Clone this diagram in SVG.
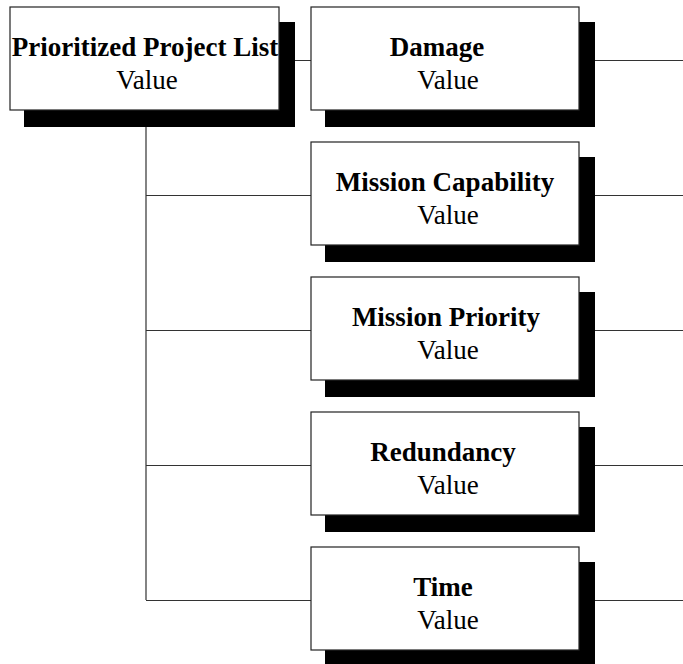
<svg xmlns="http://www.w3.org/2000/svg" width="683" height="664" viewBox="0 0 683 664">
<style>
.box{fill:#fff;stroke:#222;stroke-width:1.2}
.sh{fill:#000}
.t{font-family:"Liberation Serif","Times New Roman",serif;font-size:27px;fill:#000;text-anchor:middle}
.b{font-weight:bold}
.c{fill:none;stroke:#333;stroke-width:1.2}
</style>
<rect width="683" height="664" fill="#fff"/>
<g id="connectors">
<path class="c" d="M294 60.5H311M146 126V600M146 195.5H311M146 330.5H311M146 465.5H311M146 600.5H311"/>
<path class="c" d="M595 60.5H683M595 195.5H683M595 330.5H683M595 465.5H683M595 600.5H683"/>
</g>
<g id="root">
<rect class="sh" x="24" y="22" width="271" height="105"/>
<rect class="box" x="10" y="7" width="269" height="103"/>
<text class="t b" x="145" y="56">Prioritized Project List</text>
<text class="t" x="147" y="89">Value</text>
</g>
<g id="damage">
<rect class="sh" x="325" y="22" width="270" height="105"/>
<rect class="box" x="311" y="7" width="268" height="103"/>
<text class="t b" x="437" y="56">Damage</text>
<text class="t" x="448" y="89">Value</text>
</g>
<g id="mission-capability">
<rect class="sh" x="325" y="157" width="270" height="105"/>
<rect class="box" x="311" y="142" width="268" height="103"/>
<text class="t b" x="445" y="191">Mission Capability</text>
<text class="t" x="448" y="224">Value</text>
</g>
<g id="mission-priority">
<rect class="sh" x="325" y="292" width="270" height="105"/>
<rect class="box" x="311" y="277" width="268" height="103"/>
<text class="t b" x="446" y="326">Mission Priority</text>
<text class="t" x="448" y="359">Value</text>
</g>
<g id="redundancy">
<rect class="sh" x="325" y="427" width="270" height="105"/>
<rect class="box" x="311" y="412" width="268" height="103"/>
<text class="t b" x="443" y="461">Redundancy</text>
<text class="t" x="448" y="494">Value</text>
</g>
<g id="time">
<rect class="sh" x="325" y="562" width="270" height="105"/>
<rect class="box" x="311" y="547" width="268" height="103"/>
<text class="t b" x="443" y="596">Time</text>
<text class="t" x="448" y="629">Value</text>
</g>
</svg>
